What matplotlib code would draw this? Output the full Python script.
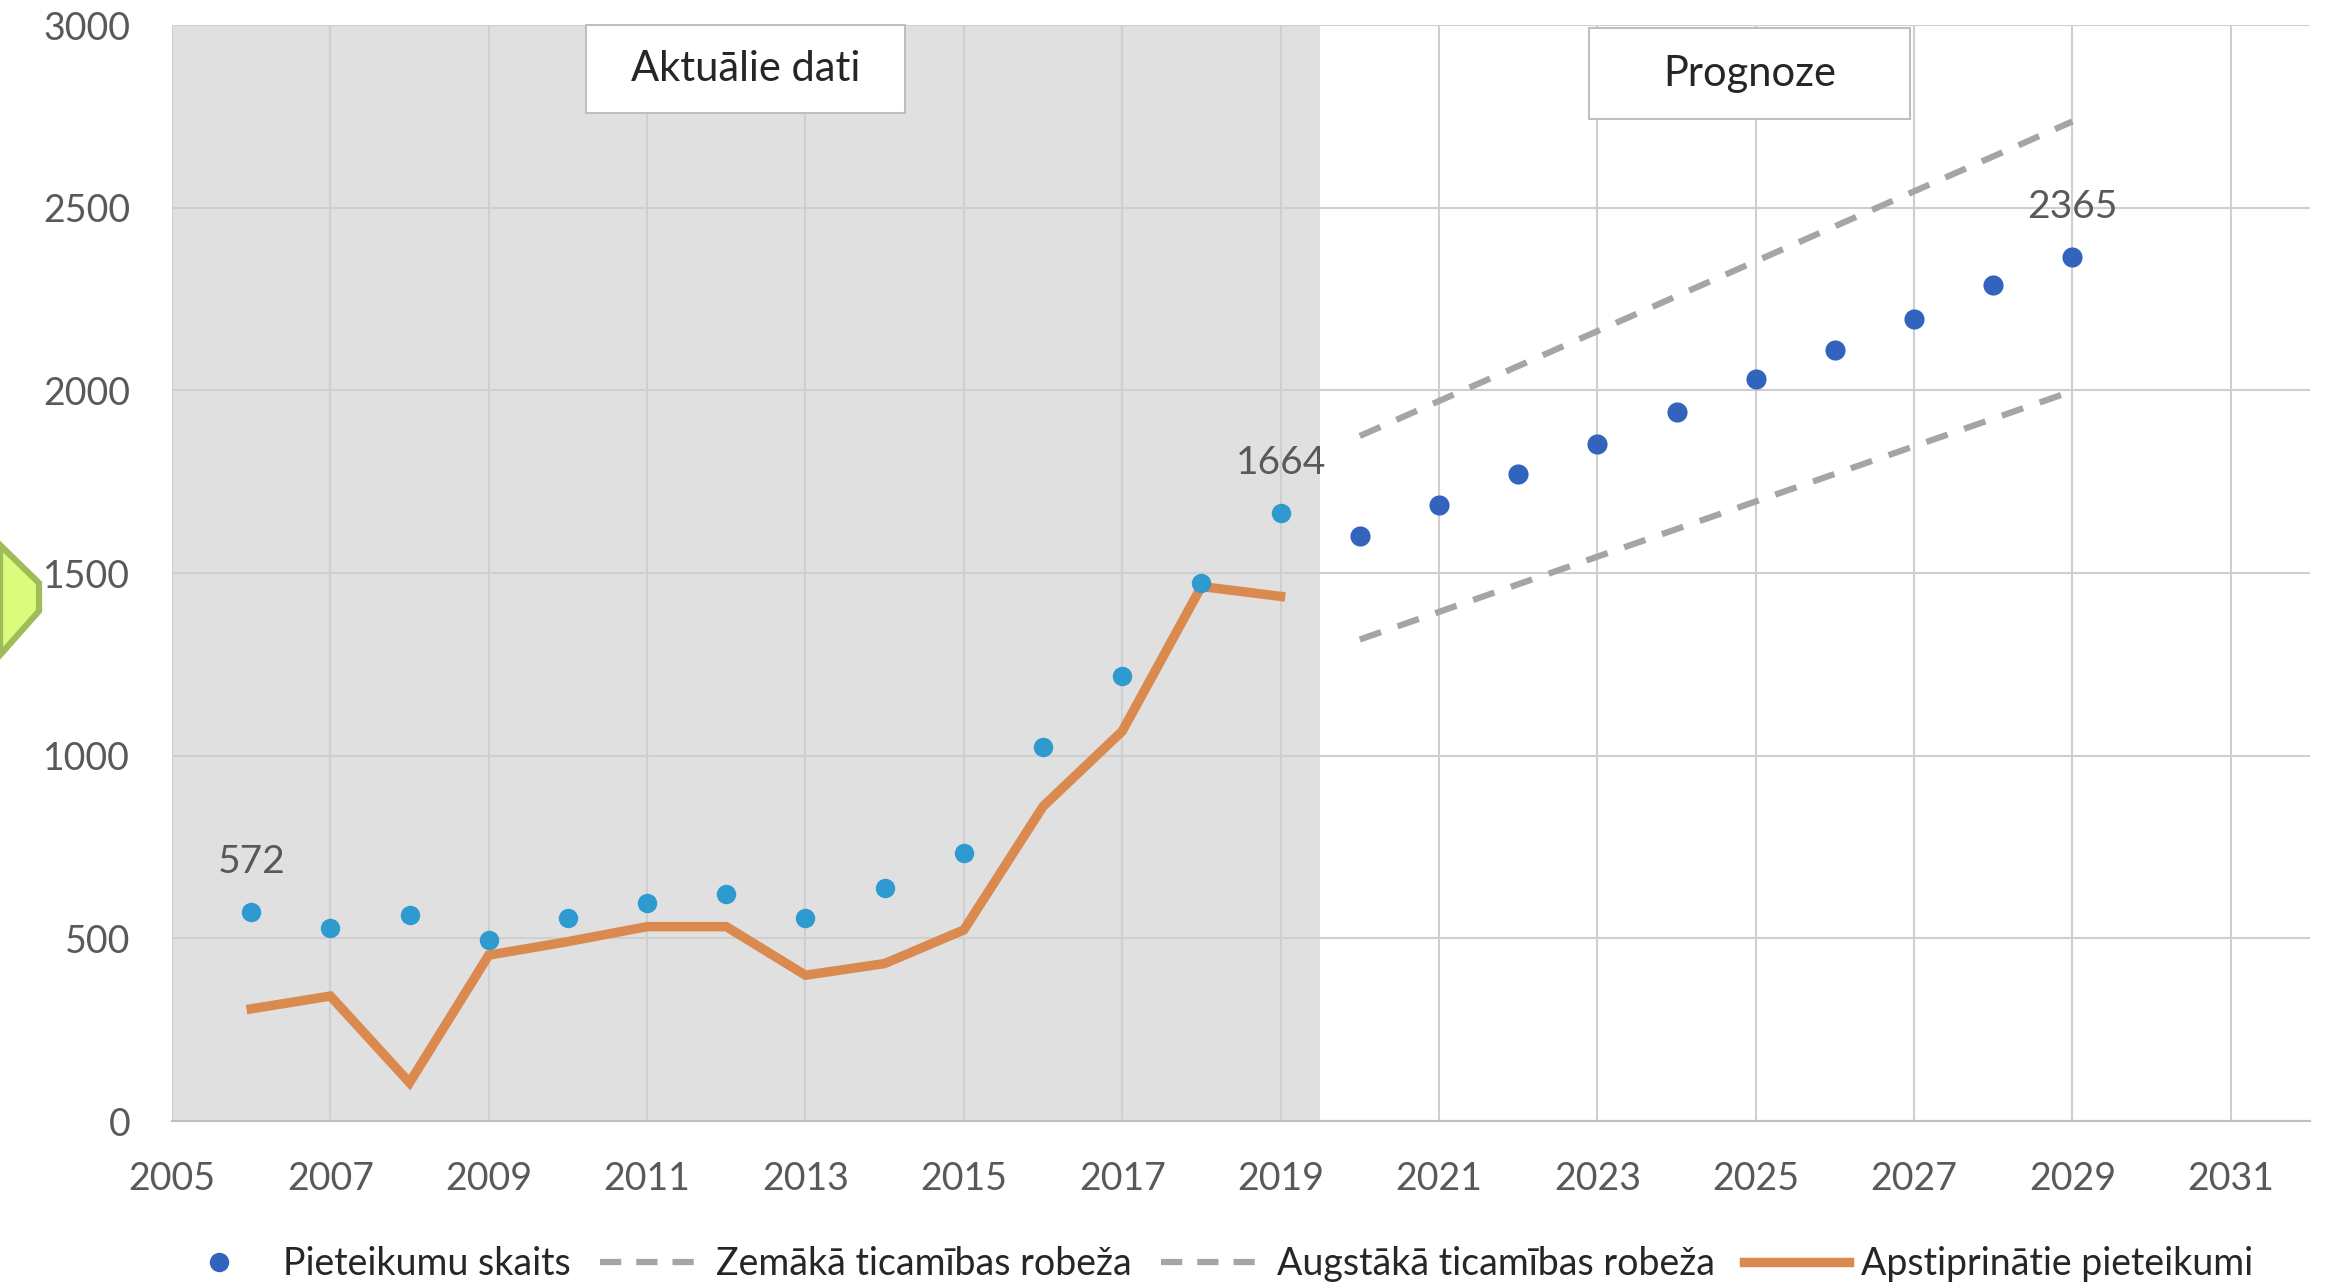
import matplotlib
matplotlib.use("Agg")
import matplotlib.pyplot as plt
from matplotlib.patches import Polygon, Rectangle
from matplotlib.lines import Line2D

# values
years_actual = [2006, 2007, 2008, 2009, 2010, 2011, 2012, 2013, 2014, 2015, 2016, 2017, 2018, 2019]
applications_actual = [572, 528, 564, 495, 555, 598, 622, 555, 639, 734, 1023, 1219, 1473, 1664]
approved = [307, 342, 105, 454, 491, 532, 532, 399, 431, 523, 861, 1067, 1463, 1436]

years_forecast = [2020, 2021, 2022, 2023, 2024, 2025, 2026, 2027, 2028, 2029]
applications_forecast = [1600, 1687, 1772, 1854, 1940, 2030, 2111, 2196, 2289, 2365]

bound_years = [2020, 2029]
lower_bound = [1318, 1998]
upper_bound = [1875, 2736]

x_ticks = list(range(2005, 2032, 2))
y_ticks = list(range(0, 3001, 500))

LIGHT_BLUE = "#2E9AD0"
DARK_BLUE = "#3264BE"
ORANGE = "#DB8A4F"
DASH_GRAY = "#A5A5A5"
TEXT_GRAY = "#595959"
FONT = "Lato"

plt.rcParams["font.family"] = [FONT, "DejaVu Sans"]

fig = plt.figure(figsize=(23.26, 12.87), dpi=100)
ax = fig.add_axes([172 / 2326, 1 - 1121 / 1287, (2310 - 172) / 2326, (1121 - 25) / 1287])

ax.set_xlim(2005, 2032)
ax.set_ylim(0, 3000)

# shaded "actual data" period
ax.axvspan(2005, 2019.5, color="#E0E0E0", zorder=0.2, lw=0)
ax.set_axisbelow(True)
ax.grid(True, color="#CFCFCF", lw=1.5)

dash = (0, (3.6, 2.8))
ax.plot(bound_years, lower_bound, color=DASH_GRAY, lw=4.5, ls=dash, zorder=3)
ax.plot(bound_years, upper_bound, color=DASH_GRAY, lw=4.5, ls=dash, zorder=3)
ax.plot(years_actual, approved, color=ORANGE, lw=6.8, solid_joinstyle="miter", zorder=3)
ax.plot(years_actual, applications_actual, "o", color=LIGHT_BLUE, ms=14, mec="none", zorder=4)
ax.plot(years_forecast, applications_forecast, "o", color=DARK_BLUE, ms=14.5, mec="none", zorder=4)

# value labels
for x, y in [(years_actual[0], applications_actual[0]),
             (years_actual[-1], applications_actual[-1]),
             (years_forecast[-1], applications_forecast[-1])]:
    ax.annotate(f"{y}", (x, y), xytext=(0, 36), textcoords="offset points",
                ha="center", va="center", fontsize=28, color=TEXT_GRAY, zorder=5)

# section boxes
for (x0, x1, y0, y1, label) in [(2010.23, 2014.26, 2759, 3000, "Aktuālie dati"),
                                (2022.90, 2026.95, 2742, 2992, "Prognoze")]:
    ax.add_patch(Rectangle((x0, y0), x1 - x0, y1 - y0, facecolor="white",
                           edgecolor="#BFBFBF", lw=1.5, zorder=6, clip_on=False))
    ax.text((x0 + x1) / 2, (y0 + y1) / 2, label, ha="center", va="center",
            fontsize=30, color="#262626", zorder=7)

ax.set_xticks(x_ticks)
ax.set_yticks(y_ticks)
ax.tick_params(length=0, labelsize=27, labelcolor=TEXT_GRAY)
ax.tick_params(axis="x", pad=29)
ax.tick_params(axis="y", pad=30)
for s in ["top", "right", "left"]:
    ax.spines[s].set_visible(False)
ax.spines["bottom"].set_color("#BFBFBF")
ax.spines["bottom"].set_linewidth(1.5)

handles = [
    Line2D([], [], ls="none", marker="o", ms=14, color=DARK_BLUE, mec="none"),
    Line2D([], [], color=DASH_GRAY, lw=4.5, ls=(0, (3.4, 2.4))),
    Line2D([], [], color=DASH_GRAY, lw=4.5, ls=(0, (3.4, 2.4))),
    Line2D([], [], color=ORANGE, lw=6.8),
]
labels = ["Pieteikumu skaits", "Zemākā ticamības robeža",
          "Augstākā ticamības robeža", "Apstiprinātie pieteikumi"]
fig.legend(handles, labels, loc="center", bbox_to_anchor=(0.520, 0.018), ncol=4,
           frameon=False, fontsize=27, handlelength=2.8, handletextpad=0.3,
           columnspacing=0.78, labelcolor="#262626")

# green arrow tip cut off at the left edge
arrow = [(0, 545), (39, 583), (39, 611), (0, 655)]
fig.add_artist(Polygon([(px / 2326, 1 - py / 1287) for px, py in arrow], closed=True,
                       facecolor="#DCFA7C", edgecolor="#A0BC5A", lw=4.5,
                       transform=fig.transFigure))

fig.savefig("out.png", dpi=100)
